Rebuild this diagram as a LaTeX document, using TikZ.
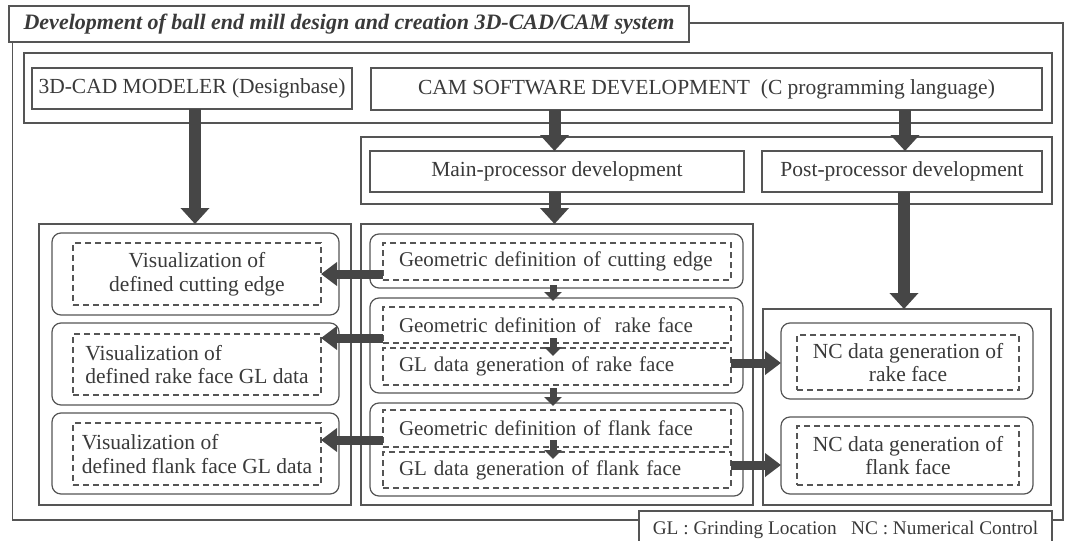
\documentclass[tikz,border=0pt]{standalone}
\usepackage{fontspec}
\setmainfont{Liberation Serif}
\usetikzlibrary{arrows.meta,calc}
\definecolor{ln}{HTML}{555555}
\definecolor{tx}{HTML}{3A3A3A}
\definecolor{ar}{HTML}{464646}
\begin{document}
\begin{tikzpicture}[x=1pt,y=-1pt,
  every node/.style={inner sep=0pt, outer sep=0pt, text=tx},
  plain/.style={draw=ln, line width=1.2pt, rectangle},
  rnd/.style={draw=ln, line width=1.2pt, rounded corners=9pt},
  dsh/.style={draw=ln, line width=1.1pt, dash pattern=on 6pt off 4pt},
  txt/.style={font=\fontsize{21.5}{23.5}\selectfont},
  mtxt/.style={font=\fontsize{21}{23.5}\selectfont, text width=316pt, align=left},
  bigarrow/.style={draw=ar, line width=12pt, -{Triangle[width=28pt,length=16pt]}},
  sidearrow/.style={draw=ar, line width=9pt, -{Triangle[width=23pt,length=16pt]}},
  smallarrow/.style={draw=ar, line width=7pt, -{Triangle[width=17pt,length=9pt]}}
]
\useasboundingbox (0,0) rectangle (1066,541);
% outer frame, title and legend
\node[plain, minimum width=1050.5pt, minimum height=497pt] (outer) at (537.75,271.5) {};
\node[plain, fill=white, minimum width=680pt, minimum height=36pt,
      font=\fontsize{22}{24}\selectfont\bfseries\itshape] (title) at (349,24)
      {Development of ball end mill design and creation 3D-CAD/CAM system};
\node[plain, fill=white, minimum width=413pt, minimum height=38pt,
      font=\fontsize{19.3}{23}\selectfont] (legend) at (845.5,530)
      {GL : Grinding Location\ \ \ NC : Numerical Control};
% top layer
\node[plain, minimum width=1028pt, minimum height=70pt] (toplayer) at (538,88) {};
\node[plain, minimum width=320pt, minimum height=41pt, txt] (cad) at (192,88.5) {3D-CAD MODELER (Designbase)};
\node[plain, minimum width=671pt, minimum height=42pt, txt] (cam) at (706.5,89) {CAM SOFTWARE DEVELOPMENT\ \ (C programming language)};
% second layer
\node[plain, minimum width=691pt, minimum height=67pt] (midlayer) at (706.5,170.5) {};
\node[plain, minimum width=374pt, minimum height=41pt, txt] (main) at (557,171.5) {Main-processor development};
\node[plain, minimum width=280pt, minimum height=41pt, txt] (post) at (902,171.5) {Post-processor development};
% columns
\node[plain, minimum width=312pt, minimum height=281pt] (leftcol) at (195,364.5) {};
\node[plain, minimum width=392pt, minimum height=281pt] (midcol) at (557,364.5) {};
\node[plain, minimum width=288pt, minimum height=196pt] (rightcol) at (907,407) {};
% left column
\node[rnd, minimum width=287pt, minimum height=82pt] (lr1) at (195.5,274) {};
\node[dsh, minimum width=248pt, minimum height=62pt, txt, align=center] (ld1) at (197,274) {Visualization of\\defined cutting edge};
\node[rnd, minimum width=287pt, minimum height=82pt] (lr2) at (195.5,364) {};
\node[dsh, minimum width=248pt, minimum height=61pt, txt, align=left] (ld2) at (197,364.5) {Visualization of\\defined rake face GL data};
\node[rnd, minimum width=287pt, minimum height=81pt] (lr3) at (195.5,453.5) {};
\node[dsh, minimum width=248pt, minimum height=62pt, txt, align=left] (ld3) at (197,454) {Visualization of\\defined flank face GL data};
% middle column
\node[rnd, minimum width=373pt, minimum height=54pt] (mr1) at (556.5,261) {};
\node[dsh, minimum width=348pt, minimum height=37pt, mtxt] (md1) at (557,261.5) {\mbox{Geometric definition of cutting edge}};
\node[rnd, minimum width=373pt, minimum height=95pt] (mr2) at (556.5,345.5) {};
\node[dsh, minimum width=348pt, minimum height=36pt, mtxt] (md2a) at (557,325) {\mbox{Geometric definition of\ \ rake face}};
\node[dsh, minimum width=348pt, minimum height=37pt, mtxt] (md2b) at (557,366.5) {\mbox{GL data generation of rake face}};
\node[rnd, minimum width=373pt, minimum height=93pt] (mr3) at (556.5,449.5) {};
\node[dsh, minimum width=348pt, minimum height=37pt, mtxt] (md3a) at (557,428.5) {\mbox{Geometric definition of flank face}};
\node[dsh, minimum width=348pt, minimum height=36pt, mtxt] (md3b) at (557,470) {\mbox{GL data generation of flank face}};
% right column
\node[rnd, minimum width=252pt, minimum height=76pt] (nr1) at (907,361) {};
\node[dsh, minimum width=222pt, minimum height=55pt, txt, align=center] (nd1) at (908,362.5) {NC data generation of\\rake face};
\node[rnd, minimum width=252pt, minimum height=77pt] (nr2) at (907,455.5) {};
\node[dsh, minimum width=222pt, minimum height=59pt, txt, align=center] (nd2) at (908,455.5) {NC data generation of\\flank face};
% helper coordinates
\coordinate (xa) at ([xshift=-2.5pt]main.north);
\coordinate (xb) at ([xshift=3pt]post.north);
\coordinate (xc) at ([xshift=-2.5pt]midcol.north);
\coordinate (xd) at ([xshift=2pt]post.south);
\coordinate (xs) at ([xshift=-3.5pt]mr1.south);
\coordinate (a1) at ([yshift=-12.5pt]md1.west);
\coordinate (a2) at ([yshift=-13pt]md2a.west);
\coordinate (a3) at ([yshift=-11.5pt]md3a.west);
\coordinate (b1) at ([yshift=3.5pt]md2b.east);
\coordinate (b2) at ([yshift=5pt]md3b.east);
% big arrows
\draw[bigarrow] (leftcol.north |- cad.south) -- (leftcol.north);
\draw[bigarrow] (xa |- cam.south) -- (xa);
\draw[bigarrow] (xb |- cam.south) -- (xb);
\draw[bigarrow] (xc |- main.south) -- (xc);
\draw[bigarrow] (xd) -- (xd |- rightcol.north);
% side arrows
\draw[sidearrow] (a1) -- (a1 -| ld1.east);
\draw[sidearrow] (a2) -- (a2 -| ld2.east);
\draw[sidearrow] (a3) -- (a3 -| ld3.east);
\draw[sidearrow] (b1) -- (b1 -| nr1.west);
\draw[sidearrow] (b2) -- (b2 -| nr2.west);
% small arrows
\draw[smallarrow] ([yshift=3pt]xs |- mr1.south) -- ([yshift=-3pt]xs |- mr2.north);
\draw[smallarrow] ([yshift=5pt]xs |- md2a.south) -- ([yshift=-8pt]xs |- md2b.north);
\draw[smallarrow] ([yshift=5pt]xs |- mr2.south) -- ([yshift=-3pt]xs |- mr3.north);
\draw[smallarrow] ([yshift=7pt]xs |- md3a.south) -- ([yshift=-7pt]xs |- md3b.north);
\end{tikzpicture}
\end{document}
